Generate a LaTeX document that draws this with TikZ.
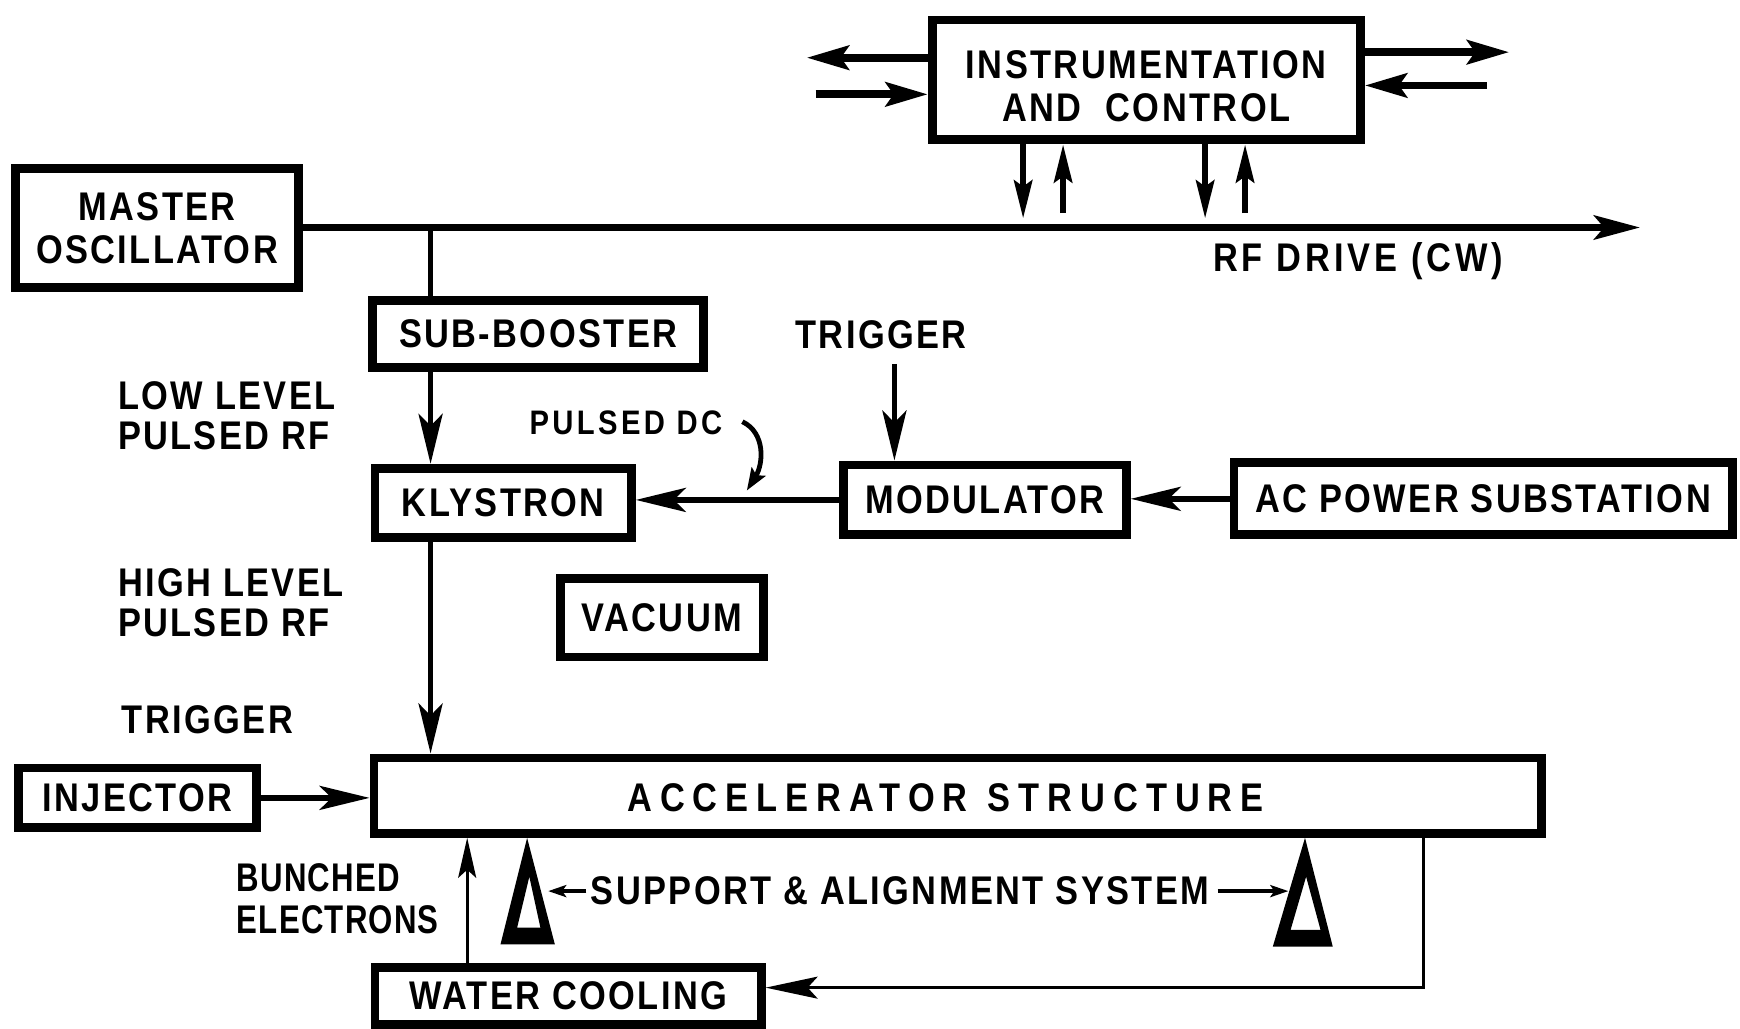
\documentclass[tikz,border=0pt]{standalone}
\usepackage{fontspec}
\setmainfont{Liberation Sans}[FakeStretch=0.86,LetterSpace=6]
\newfontfamily\widefont{Liberation Sans}[FakeStretch=0.86,LetterSpace=20]
\newfontfamily\narrowfont{Liberation Sans}[FakeStretch=0.78,LetterSpace=3]
\usetikzlibrary{arrows.meta}
\begin{document}
\begin{tikzpicture}[x=0.555pt,y=-0.555pt,
  lbl/.style={font=\fontsize{20}{21.6}\selectfont\bfseries, inner sep=0pt, align=center},
  box/.style 2 args={lbl, draw, line width=4.4pt, minimum width=#1*0.555pt, minimum height=#2*0.555pt},
  arr/.style={line width=2.8pt, -{Stealth[length=25pt,width=12pt,inset=6pt]}},
  bigarr/.style={line width=3.9pt, -{Stealth[length=21pt,width=12pt,inset=4pt]}},
  vtarr/.style={line width=3.3pt, -{Stealth[length=19pt,width=9pt,inset=3pt]}},
  rfarr/.style={line width=3.8pt, -{Stealth[length=23pt,width=12pt,inset=5pt]}},
  thinarr/.style={line width=1.4pt, -{Stealth[length=20pt,width=9pt,inset=4pt]}},
  loopar/.style={line width=1.4pt, -{Stealth[length=26pt,width=11pt,inset=5pt]}},
  smallarr/.style={line width=2pt, -{Stealth[length=9pt,width=6pt,inset=2pt]}},
  plain/.style={line width=2.8pt}
]
\useasboundingbox (0,0) rectangle (1568,927);

% boxes
\node[box={386}{108}] (ic) at (1033,72) {};
\node[lbl] (ict) at (1033,78) {INSTRUMENTATION\\AND\hspace{0.6em}CONTROL};
\node[box={255}{107}] (mo) at (141.5,205.5) {MASTER\\OSCILLATOR};
\node[box={298}{60}] (sb) at (485,301) {SUB-BOOSTER};
\node[box={231}{62}] (kl) at (453.5,453) {KLYSTRON};
\node[box={255}{63}] (mod) at (887.5,450.5) {MODULATOR};
\node[box={449}{65}] (ac) at (1336.5,449.5) {AC POWER SUBSTATION};
\node[box={183}{71}] (vac) at (596.5,556.5) {VACUUM};
\node[box={214}{54}] (inj) at (124,719) {INJECTOR};
\node[box={1052}{68}] (acc) at (863,717) {};
\node[lbl] (acct) at (852,719) {\widefont\bfseries ACCELERATOR\hspace{0.5em}STRUCTURE};
\node[box={348}{51}] (wc) at (512,897.5) {WATER COOLING};

% labels
\node[lbl] (rfl) at (1224,235) {\addfontfeatures{LetterSpace=10}RF DRIVE (CW)};
\node[lbl, anchor=west, align=left, font=\fontsize{20}{20}\selectfont\bfseries] (low) at (106,375) {LOW LEVEL\\PULSED RF};
\node[lbl, anchor=west, align=left, font=\fontsize{20}{20}\selectfont\bfseries] (high) at (106,543) {HIGH LEVEL\\PULSED RF};
\node[lbl] (trig2) at (187,649) {TRIGGER};
\node[lbl] (trig1) at (794,302) {TRIGGER};
\node[lbl, font=\fontsize{17}{18}\selectfont\bfseries] (pdc) at (564,381) {\addfontfeatures{LetterSpace=10}PULSED DC};
\node[lbl, anchor=west, align=left, font=\fontsize{20}{21}\selectfont\narrowfont\bfseries] (bun) at (213,810) {BUNCHED\\ELECTRONS};
\node[lbl] (sup) at (811,803) {SUPPORT \& ALIGNMENT SYSTEM};

% coordinates
\coordinate (rfend) at (1478,205);
\coordinate (j) at (388,205);
\coordinate (icl1) at (727,52);
\coordinate (icl2) at (735,85);
\coordinate (icr1) at (1360,47);
\coordinate (icr2) at (1340,77);
\coordinate (icd1) at (922,197);
\coordinate (icu1) at (958,192);
\coordinate (icd2) at (1086,197);
\coordinate (icu2) at (1122,192);
\coordinate (t1) at (806,328);
\coordinate (pdcA) at (669,380);
\coordinate (pdcB) at (673,442);
\coordinate (bx) at (421,800);
\coordinate (lp) at (1283,890);
\coordinate (tl) at (494,803);
\coordinate (tr) at (1161,803);

% instrumentation arrows
\draw[bigarr] (ic.west |- icl1) -- (icl1);
\draw[bigarr] (icl2) -- (ic.west |- icl2);
\draw[bigarr] (ic.east |- icr1) -- (icr1);
\draw[bigarr] (icr2) -- (ic.east |- icr2);
\draw[vtarr] (ic.south -| icd1) -- (icd1);
\draw[vtarr] (icu1) -- (icu1 |- ic.south);
\draw[vtarr] (ic.south -| icd2) -- (icd2);
\draw[vtarr] (icu2) -- (icu2 |- ic.south);

% RF drive
\draw[rfarr] (mo.east |- rfend) -- (rfend);
\draw[plain] (j) -- (j |- sb.north);
\draw[arr] (j |- sb.south) -- (j |- kl.north);
\draw[arr] (j |- kl.south) -- (j |- acc.north);

% modulator chain
\draw[arr] (t1) -- (t1 |- mod.north);
\draw[arr] (mod.west) -- (kl.east |- mod.west);
\draw[arr] (ac.west) -- (mod.east |- ac.west);
\draw[line width=2.4pt, -{Stealth[length=11pt,width=8pt,inset=2pt]}] (pdcA) .. controls (690,390) and (688,418) .. (pdcB);

% injector
\draw[arr] (inj.east) -- (acc.west |- inj.east);

% water cooling
\draw[thinarr] (wc.north -| bx) -- (acc.south -| bx);
\draw[loopar] (acc.south -| lp) -- (lp) -- (wc.east |- lp);

% supports
\fill[even odd rule] (475,755) -- (451,851) -- (500,851) -- cycle
                     (477,790) -- (466,836) -- (487,836) -- cycle;
\fill[even odd rule] (1176,755) -- (1147,853) -- (1201,853) -- cycle
                     (1177,790) -- (1163,838) -- (1190,838) -- cycle;
\draw[smallarr] ([xshift=-2pt]sup.west) -- (tl);
\draw[smallarr] ([xshift=4pt]sup.east) -- (tr);
\end{tikzpicture}
\end{document}
